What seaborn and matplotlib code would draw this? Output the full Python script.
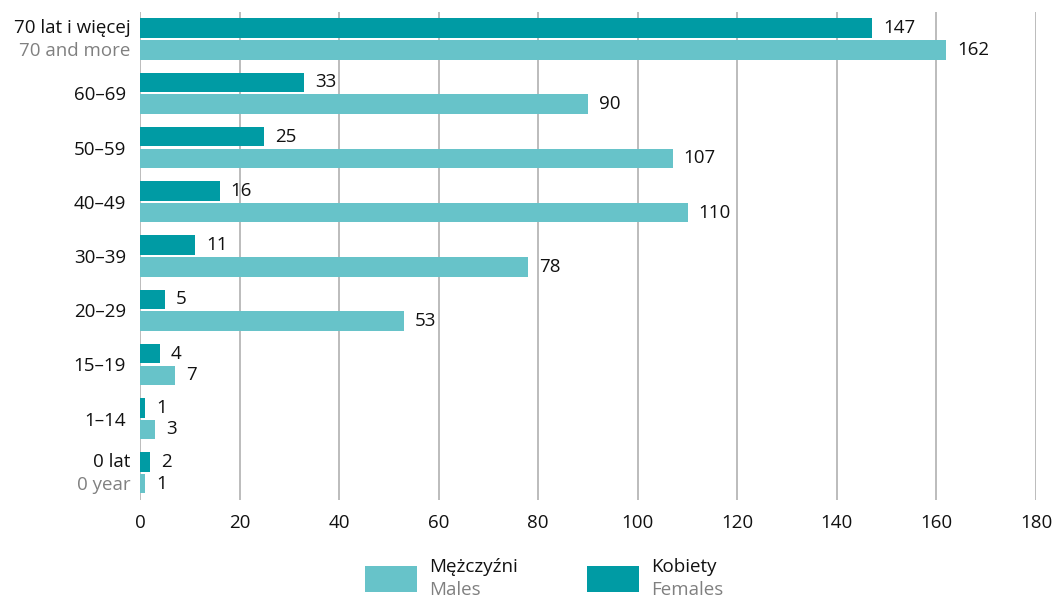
import numpy as np
import pandas as pd
import matplotlib.pyplot as plt
from matplotlib.patches import Rectangle
from matplotlib.transforms import blended_transform_factory
import seaborn as sns

# age groups, top to bottom
groups = ["70+", "60–69", "50–59", "40–49", "30–39", "20–29", "15–19", "1–14", "0"]
females = [147, 33, 25, 16, 11, 5, 4, 1, 2]
males = [162, 90, 107, 110, 78, 53, 7, 3, 1]
x_ticks = list(range(0, 181, 20))

dark = "#009BA4"
light = "#67C3C9"
grey_txt = "#808080"
fs = 13.5

df = pd.DataFrame({
    "group": groups * 2,
    "value": females + males,
    "sex": ["Kobiety"] * len(groups) + ["Mężczyźni"] * len(groups),
})

sns.set_style("white")
plt.rcParams["font.family"] = ["Open Sans", "DejaVu Sans"]

fig = plt.figure(figsize=(10.55, 5.99), dpi=100)
ax = fig.add_axes([0.1327, 0.1653, 0.8493, 0.8147])

sns.barplot(data=df, x="value", y="group", hue="sex", order=groups,
            hue_order=["Kobiety", "Mężczyźni"], palette=[dark, light],
            saturation=1, orient="h", width=0.8, gap=0.1, linewidth=0,
            legend=False, ax=ax)

for c in ax.containers:
    ax.bar_label(c, padding=8, fontsize=fs, color="#111111")

ax.set_xlim(0, 180)
ax.set_xticks(x_ticks)
ax.set_xlabel("")
ax.set_ylabel("")
ax.grid(axis="x", color="#b0b0b0", linewidth=1.2)
ax.set_axisbelow(True)
for s in ax.spines.values():
    s.set_visible(False)
ax.tick_params(axis="x", length=0, pad=10, labelsize=fs, labelcolor="#111111")
ax.tick_params(axis="y", length=0, pad=10, labelsize=fs, labelcolor="#111111")

# two-language labels for first and last group
labels = ["", "60–69", "50–59", "40–49", "30–39", "20–29", "15–19", "1–14", ""]
ax.set_yticks(range(len(groups)))
ax.set_yticklabels(labels)
tr = blended_transform_factory(ax.transAxes, ax.transData)
off = 0.0105
for i, (pl, en) in [(0, ("70 lat i więcej", "70 and more")),
                    (len(groups) - 1, ("0 lat", "0 year"))]:
    ax.text(-off, i - 0.2, pl, transform=tr, ha="right", va="center",
            fontsize=fs, color="#111111")
    ax.text(-off, i + 0.22, en, transform=tr, ha="right", va="center",
            fontsize=fs, color=grey_txt)

# legend drawn by hand
W, H = 1055, 599
for x0, col, t1, t2 in [(365, light, "Mężczyźni", "Males"),
                        (587, dark, "Kobiety", "Females")]:
    fig.add_artist(Rectangle((x0 / W, 1 - 592 / H), 52 / W, 26 / H,
                             transform=fig.transFigure, color=col, lw=0))
    fig.text((x0 + 64) / W, 1 - 567 / H, t1, fontsize=fs, color="#111111",
             va="center", ha="left")
    fig.text((x0 + 64) / W, 1 - 590 / H, t2, fontsize=fs, color=grey_txt,
             va="center", ha="left")

fig.savefig("out.png", dpi=100)
